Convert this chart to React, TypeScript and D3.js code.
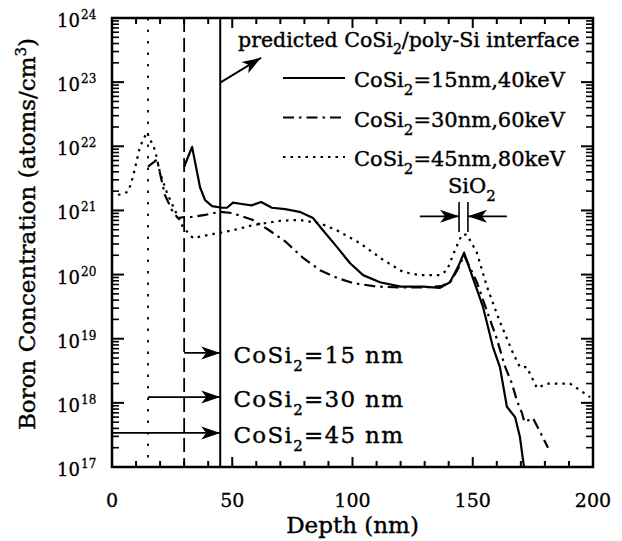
import React from "react";
import * as d3 from "d3";

// Depth (nm) and boron concentration (atoms/cm^3) for each silicide case
const depth15 = [30, 33.3, 36.6, 38.7, 41.6, 45.7, 47.8, 50.3, 54, 58, 62, 66.5, 72, 78, 83.6, 87.7, 93.5, 99, 104.4, 111.4, 120, 129.3, 136.4, 140.5, 143.9, 146.4, 148.9, 154.3, 158.4, 161.3, 164.2, 167.6, 169.6, 171.3];
const conc15 = [4.8e21, 9.8e21, 2.3e21, 1.45e21, 1.17e21, 1.1e21, 1.1e21, 1.32e21, 1.26e21, 1.2e21, 1.35e21, 1.1e21, 1.05e21, 9.5e20, 7.6e20, 4.9e20, 2.7e20, 1.5e20, 9.8e19, 7.6e19, 6.5e19, 6.5e19, 6.2e19, 7.6e19, 1.32e20, 2.2e20, 1.17e20, 3.1e19, 7.4e18, 3.6e18, 8.7e17, 6.0e17, 2.95e17, 1.0e17];

const depth30 = [15, 18.7, 22, 25, 27.4, 30, 33, 38.7, 45, 50, 58.6, 65, 72, 79.6, 86.5, 93.5, 100, 110, 120, 130, 137, 141, 144, 146.4, 151.7, 155.9, 160, 163.4, 166.3, 168.4, 170.5, 171.5, 175, 178, 181.3];
const conc30 = [4.8e21, 6.2e21, 1.74e21, 1.0e21, 7.6e20, 7.9e20, 7.9e20, 8.5e20, 9.5e20, 9.1e20, 7.1e20, 5.0e20, 3.3e20, 1.8e20, 1.17e20, 8.9e19, 7.4e19, 6.5e19, 6.3e19, 6.3e19, 6.6e19, 7.9e19, 1.26e20, 2.0e20, 7.6e19, 2.7e19, 1.0e19, 3.7e18, 2.0e18, 1.07e18, 6.9e17, 5.0e17, 5.8e17, 3.5e17, 2.0e17];

const depth45 = [2.5, 6.7, 8.7, 11.6, 14.5, 17.9, 20, 22.9, 26.2, 29.5, 33.7, 40.7, 50.3, 58.6, 70, 78, 86.5, 93.5, 103, 112.7, 121, 128, 136.4, 139.3, 142.6, 145.5, 147.6, 151.7, 155.9, 161, 166.7, 169.6, 172.5, 176.7, 180.9, 190.4, 195.4, 198.8];
const conc45 = [1.74e21, 1.95e21, 3.3e21, 9.8e21, 1.66e22, 8.7e21, 3.8e21, 1.86e21, 1.0e21, 5.5e20, 3.7e20, 4.2e20, 4.9e20, 5.9e20, 6.9e20, 7.1e20, 6.3e20, 4.9e20, 3.1e20, 1.7e20, 1.1e20, 9.8e19, 9.8e19, 1.17e20, 2.4e20, 4.2e20, 4.2e20, 2.2e20, 6.5e19, 1.95e19, 6.0e18, 3.6e18, 3.6e18, 1.7e18, 2.0e18, 2.0e18, 1.5e18, 1.23e18];

// Silicide thickness markers (nm) and their labels
const silicideThickness = [15, 30, 45];
const legendLabels = [
  { pre: "CoSi", sub: "2", post: "=15nm,40keV" },
  { pre: "CoSi", sub: "2", post: "=30nm,60keV" },
  { pre: "CoSi", sub: "2", post: "=45nm,80keV" },
];
const markerLabels = [
  { from: 30, to: 45, y: 6e18, pre: "CoSi", sub: "2", post: "=15 nm" },
  { from: 15, to: 45, y: 1.23e18, pre: "CoSi", sub: "2", post: "=30 nm" },
  { from: 0, to: 45, y: 3.4e17, pre: "CoSi", sub: "2", post: "=45 nm" },
];

const xTicks = [0, 50, 100, 150, 200];
const yDecades = [17, 18, 19, 20, 21, 22, 23, 24];

const W = 622;
const H = 541;
const M = { left: 112, right: 593, top: 18, bottom: 467 };
const FONT = "DejaVu Serif";

const dashStyles = ["none", "11,5,2.5,5", "2.5,5"];

function SubText({ x, y, pre, sub, post, size, subSize, subDy, anchor = "start", ls = 0 }: any) {
  return (
    <text x={x} y={y} fontSize={size} fontFamily={FONT} textAnchor={anchor} letterSpacing={ls} fill="#000" stroke="#000" strokeWidth={0.4}>
      <tspan>{pre}</tspan>
      <tspan fontSize={subSize} dy={subDy}>{sub}</tspan>
      <tspan dy={-subDy}>{post}</tspan>
    </text>
  );
}

export default function App() {
  const x = d3.scaleLinear().domain([0, 200]).range([M.left, M.right]);
  const y = d3.scaleLog().domain([1e17, 1e24]).range([M.bottom, M.top]);

  const line = d3
    .line<[number, number]>()
    .x((d) => x(d[0]))
    .y((d) => y(d[1]));

  const series = [
    d3.zip(depth15, conc15) as [number, number][],
    d3.zip(depth30, conc30) as [number, number][],
    d3.zip(depth45, conc45) as [number, number][],
  ];

  const xMinor = d3.range(0, 201, 10);
  const yMinor: number[] = [];
  for (let e = 17; e < 24; e++) for (let k = 2; k <= 9; k++) yMinor.push(k * Math.pow(10, e));

  const vlineDash = ["2.5,9", "14,6", "none"];

  return (
    <svg width={W} height={H} style={{ position: "absolute", left: 0, top: 0, background: "#fff" }}>
      <defs>
        <marker id="ah" markerUnits="userSpaceOnUse" markerWidth={22} markerHeight={16} refX={19} refY={8} orient="auto">
          <path d="M0,1.5 L19,8 L0,14.5 L5,8 Z" fill="#000" />
        </marker>
      </defs>

      {/* silicide/poly-Si interface positions */}
      {silicideThickness.map((t, i) => (
        <line key={t} x1={x(t)} x2={x(t)} y1={M.top} y2={M.bottom} stroke="#000" strokeWidth={i === 2 ? 2 : 1.8} strokeDasharray={vlineDash[i]} />
      ))}

      {/* profiles */}
      {series.map((s, i) => (
        <path key={i} d={line(s) || ""} fill="none" stroke="#000" strokeWidth={2.2} strokeDasharray={dashStyles[i]} strokeLinejoin="round" />
      ))}

      {/* ticks */}
      {xMinor.map((v) => {
        const len = v % 50 === 0 ? 10 : 6;
        return (
          <g key={"xt" + v}>
            <line x1={x(v)} x2={x(v)} y1={M.bottom} y2={M.bottom - len} stroke="#000" strokeWidth={2} />
            <line x1={x(v)} x2={x(v)} y1={M.top} y2={M.top + len} stroke="#000" strokeWidth={2} />
          </g>
        );
      })}
      {yDecades.map((e) => (
        <g key={"yd" + e}>
          <line x1={M.left} x2={M.left + 12} y1={y(Math.pow(10, e))} y2={y(Math.pow(10, e))} stroke="#000" strokeWidth={2} />
          <line x1={M.right} x2={M.right - 12} y1={y(Math.pow(10, e))} y2={y(Math.pow(10, e))} stroke="#000" strokeWidth={2} />
        </g>
      ))}
      {yMinor.map((v, i) => (
        <g key={"ym" + i}>
          <line x1={M.left} x2={M.left + 7} y1={y(v)} y2={y(v)} stroke="#000" strokeWidth={1.6} />
          <line x1={M.right} x2={M.right - 7} y1={y(v)} y2={y(v)} stroke="#000" strokeWidth={1.6} />
        </g>
      ))}

      {/* frame */}
      <rect x={M.left} y={M.top} width={M.right - M.left} height={M.bottom - M.top} fill="none" stroke="#000" strokeWidth={2.5} />

      {/* tick labels */}
      {xTicks.map((v) => (
        <text key={"xl" + v} x={x(v)} y={M.bottom + 40} fontSize={19} fontFamily={FONT} textAnchor="middle" fill="#000" stroke="#000" strokeWidth={0.3}>
          {v}
        </text>
      ))}
      {yDecades.map((e) => (
        <text key={"yl" + e} x={80} y={y(Math.pow(10, e)) + 9} fontSize={18} fontFamily={FONT} textAnchor="end" fill="#000" stroke="#000" strokeWidth={0.3}>
          10
          <tspan x={81} dy={-8} fontSize={12} textAnchor="start">{e}</tspan>
        </text>
      ))}

      {/* axis titles */}
      <text x={(M.left + M.right) / 2} y={533} fontSize={23} fontFamily={FONT} textAnchor="middle" fill="#000" stroke="#000" strokeWidth={0.4}>
        Depth (nm)
      </text>
      <text transform={`translate(35,${234}) rotate(-90)`} fontSize={23} fontFamily={FONT} textAnchor="middle" fill="#000" stroke="#000" strokeWidth={0.4}>
        Boron Concentration (atoms/cm
        <tspan dy={-9} fontSize={15}>3</tspan>
        <tspan dy={9}>)</tspan>
      </text>

      {/* interface annotation */}
      <line x1={x(45)} y1={y(9.8e22)} x2={x(62)} y2={y(2.4e23)} stroke="#000" strokeWidth={2} markerEnd="url(#ah)" />
      <SubText x={x(52.4)} y={y(3.5e23)} pre="predicted CoSi" sub="2" post="/poly-Si interface" size={20.5} subSize={14} subDy={7} />

      {/* legend */}
      {legendLabels.map((l, i) => {
        const ly = 78 + i * 39.5;
        return (
          <g key={"lg" + i}>
            <line x1={283} x2={345} y1={ly} y2={ly} stroke="#000" strokeWidth={2.2} strokeDasharray={dashStyles[i]} />
            <SubText x={354} y={ly + 9} pre={l.pre} sub={l.sub} post={l.post} size={21} subSize={15} subDy={8} />
          </g>
        );
      })}

      {/* oxide layer */}
      <SubText x={x(139.7)} y={y(1.86e21)} pre="SiO" sub="2" post="" size={21} subSize={15} subDy={8} />
      {[144.3, 148].map((d) => (
        <line key={"ox" + d} x1={x(d)} x2={x(d)} y1={y(1.35e21)} y2={y(4.6e20)} stroke="#000" strokeWidth={1.6} />
      ))}
      <line x1={x(128)} x2={x(144.3)} y1={y(8.1e20)} y2={y(8.1e20)} stroke="#000" strokeWidth={1.8} markerEnd="url(#ah)" />
      <line x1={x(164.2)} x2={x(148)} y1={y(8.1e20)} y2={y(8.1e20)} stroke="#000" strokeWidth={1.8} markerEnd="url(#ah)" />

      {/* silicide thickness arrows */}
      {markerLabels.map((m, i) => (
        <g key={"ml" + i}>
          <line x1={x(m.from)} x2={x(m.to)} y1={y(m.y)} y2={y(m.y)} stroke="#000" strokeWidth={1.8} markerEnd="url(#ah)" />
          <SubText x={x(50.5)} y={y(m.y) + 10} pre={m.pre} sub={m.sub} post={m.post} size={23} subSize={15} subDy={8} ls={1.3} />
        </g>
      ))}
    </svg>
  );
}
